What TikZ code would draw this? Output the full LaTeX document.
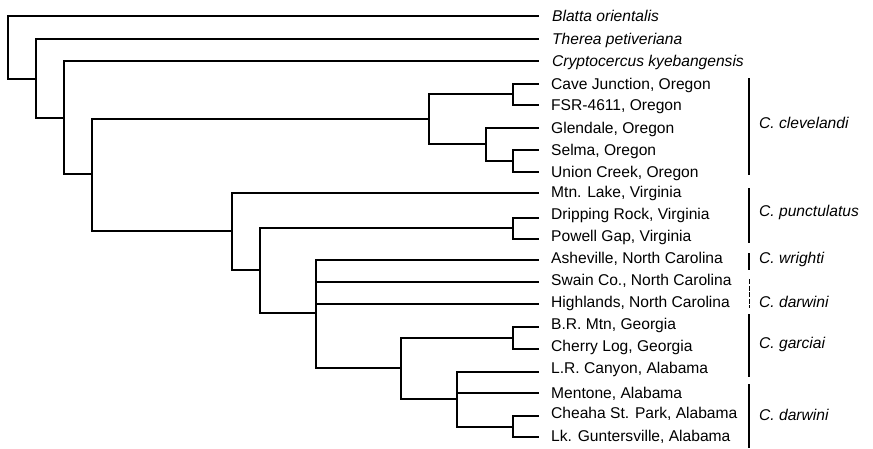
\documentclass[tikz,border=0pt]{standalone}
\usepackage{fontspec}
\setmainfont{Liberation Sans}
\begin{document}
\begin{tikzpicture}[x=1pt,y=-1pt,
  branch/.style={line width=2.1pt,line join=miter,line cap=rect},
  leaf/.style={anchor=base west,inner sep=0pt,font=\fontsize{15.6}{18}\selectfont},
  taxon/.style={leaf,font=\fontsize{15.6}{18}\selectfont\itshape},
  brack/.style={line width=1.2pt},
  brackdash/.style={line width=1pt,dash pattern=on 5pt off 1.5pt}]
\useasboundingbox (0,0) rectangle (873,448);
% tips
\foreach \n/\y in {Bla/16,The/39,Cry/61,Cav/84,FSR/105,Gle/128,Sel/150,Uni/172,Mtn/193,Dri/218,Pow/239,Ash/260,Swa/282,Hig/304,BRM/327,Che/349,LRC/372,Men/393,Chh/416,Lkg/437}
  \coordinate (t\n) at (538,\y);
% internal nodes
\coordinate (r)    at (8,79);
\coordinate (n36)  at (36,79);
\coordinate (n64)  at (64,118);
\coordinate (n92)  at (92,174);
\coordinate (o1)   at (429,119);
\coordinate (o2)   at (513,94);
\coordinate (o3)   at (486,144);
\coordinate (o4)   at (513,161);
\coordinate (n232) at (232,231);
\coordinate (n260) at (260,270);
\coordinate (v1)   at (513,228);
\coordinate (n316) at (316,313);
\coordinate (n401) at (401,368);
\coordinate (g1)   at (513,338);
\coordinate (n457) at (457,399);
\coordinate (a1)   at (513,427);
% labels
\node[taxon] (lBla) at (552,21.6) {Blatta orientalis};
\node[taxon] (lThe) at (552,44.6) {Therea petiveriana};
\node[taxon] (lCry) at (552,66.6) {Cryptocercus kyebangensis};
\node[leaf] (lCav) at (551,89.6) {Cave Junction, Oregon};
\node[leaf] (lFSR) at (551,110.6) {FSR-4611, Oregon};
\node[leaf] (lGle) at (551,133.6) {Glendale, Oregon};
\node[leaf] (lSel) at (551,155.6) {Selma, Oregon};
\node[leaf] (lUni) at (551,177.6) {Union Creek, Oregon};
\node[leaf] (lMtn) at (551,197.6) {Mtn. Lake, Virginia};
\node[leaf] (lDri) at (551,219.6) {Dripping Rock, Virginia};
\node[leaf] (lPow) at (551,241.6) {Powell Gap, Virginia};
\node[leaf] (lAsh) at (551,263.6) {Asheville, North Carolina};
\node[leaf] (lSwa) at (551,285.6) {Swain Co., North Carolina};
\node[leaf] (lHig) at (551,307.6) {Highlands, North Carolina};
\node[leaf] (lBRM) at (551,329.6) {B.R. Mtn, Georgia};
\node[leaf] (lChe) at (551,351.6) {Cherry Log, Georgia};
\node[leaf] (lLRC) at (551,373.6) {L.R. Canyon, Alabama};
\node[leaf] (lMen) at (551,398.6) {Mentone, Alabama};
\node[leaf] (lChh) at (551,418.6) {Cheaha St. Park, Alabama};
\node[leaf] (lLkg) at (551,441.6) {Lk. Guntersville, Alabama};
% tree
\draw[branch] (r) |- (tBla);
\draw[branch] (r) -- (n36);
\draw[branch] (n36) |- (tThe);
\draw[branch] (n36) |- (n64);
\draw[branch] (n64) |- (tCry);
\draw[branch] (n64) |- (n92);
\draw[branch] (n92) |- (o1);
\draw[branch] (n92) |- (n232);
\draw[branch] (o1) |- (o2);
\draw[branch] (o1) |- (o3);
\draw[branch] (o2) |- (tCav);
\draw[branch] (o2) |- (tFSR);
\draw[branch] (o3) |- (tGle);
\draw[branch] (o3) |- (o4);
\draw[branch] (o4) |- (tSel);
\draw[branch] (o4) |- (tUni);
\draw[branch] (n232) |- (tMtn);
\draw[branch] (n232) |- (n260);
\draw[branch] (n260) |- (v1);
\draw[branch] (n260) |- (n316);
\draw[branch] (v1) |- (tDri);
\draw[branch] (v1) |- (tPow);
\draw[branch] (n316) |- (tAsh);
\draw[branch] (n316) |- (tSwa);
\draw[branch] (n316) |- (tHig);
\draw[branch] (n316) |- (n401);
\draw[branch] (n401) |- (g1);
\draw[branch] (n401) |- (n457);
\draw[branch] (g1) |- (tBRM);
\draw[branch] (g1) |- (tChe);
\draw[branch] (n457) |- (tLRC);
\draw[branch] (n457) |- (tMen);
\draw[branch] (n457) |- (a1);
\draw[branch] (a1) |- (tChh);
\draw[branch] (a1) |- (tLkg);
% species brackets
\coordinate (b1a) at (749,78);  \coordinate (b1b) at (749,175);
\coordinate (b2a) at (749,188); \coordinate (b2b) at (749,243);
\coordinate (b3a) at (749,253); \coordinate (b3b) at (749,270);
\coordinate (b4a) at (749,279); \coordinate (b4b) at (749,308);
\coordinate (b5a) at (749,314); \coordinate (b5b) at (749,377);
\coordinate (b6a) at (749,384); \coordinate (b6b) at (749,448);
\draw[brack] (b1a) -- (b1b);
\draw[brack] (b2a) -- (b2b);
\draw[brack] (b3a) -- (b3b);
\draw[brackdash] (b4a) -- (b4b);
\draw[brack] (b5a) -- (b5b);
\draw[brack] (b6a) -- (b6b);
\node[taxon] (s1) at (759,128.6) {C. clevelandi};
\node[taxon] (s2) at (759,216.6) {C. punctulatus};
\node[taxon] (s3) at (759,263.6) {C. wrighti};
\node[taxon] (s4) at (759,307.6) {C. darwini};
\node[taxon] (s5) at (759,348.6) {C. garciai};
\node[taxon] (s6) at (759,420.6) {C. darwini};
\end{tikzpicture}
\end{document}
